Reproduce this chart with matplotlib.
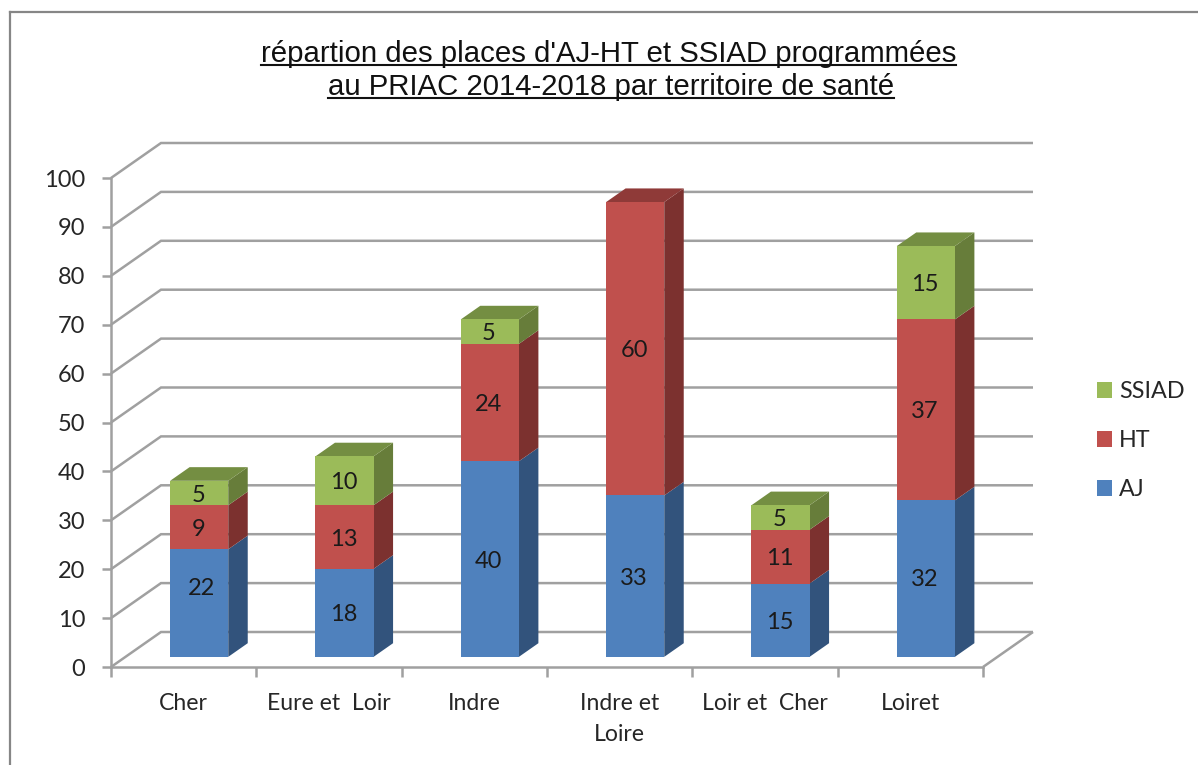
import matplotlib
matplotlib.use("Agg")
import matplotlib.pyplot as plt
from matplotlib.lines import Line2D
from matplotlib.patches import Patch, Polygon

categories = ["Cher", "Eure et  Loir", "Indre", "Indre et\nLoire", "Loir et  Cher", "Loiret"]
aj = [22, 18, 40, 33, 15, 32]
ht = [9, 13, 24, 60, 11, 37]
ssiad = [5, 10, 5, 0, 5, 15]
series_names = ["AJ", "HT", "SSIAD"]
title_lines = ["répartion des places d'AJ-HT et SSIAD programmées",
               "au PRIAC 2014-2018 par territoire de santé"]
y_ticks = list(range(0, 101, 10))

W, H = 1198, 765
FRONT = ["#4F81BD", "#C0504D", "#9BBB59"]
SIDE = ["#32537C", "#7C312F", "#677D3A"]
TOP = ["#3E6797", "#8F3A38", "#748E42"]
GRID = "#A0A0A0"
TXT = "#262626"
FONT = "Lato"

fig = plt.figure(figsize=(W / 100, H / 100), dpi=100, facecolor="white")
ax = fig.add_axes([111 / W, (H - 667) / H, 872 / W, 489 / H])
ax.set_xlim(0, 6)
ax.set_ylim(0, 100)
ax.patch.set_visible(False)

PX_X = 6 / 872          # one pixel in category units
PX_Y = 100 / 489        # one pixel in value units
DX = 50 * PX_X          # depth of the floor, in category units
DY = 35 * PX_Y          # depth of the floor, in value units
NEAR, FAR = 0.29, 0.68  # bar position within the depth
HALF = 0.2              # half bar width


def line(xs, ys, lw=1.8, color=GRID, z=1):
    ax.add_line(Line2D(xs, ys, color=color, lw=lw, clip_on=False, zorder=z,
                       solid_capstyle="butt", solid_joinstyle="miter"))


# walls and floor
for v in y_ticks:
    line([0, DX, 6 + DX], [v, v + DY, v + DY])
line([6, 6 + DX], [0, DY])

# stacked 3D bars
stack = list(zip(aj, ht, ssiad))
label_dx = {(0, 0): 3 * PX_X}
label_dy = {(0, 0): 3.3, (5, 0): 0.3}
for i, values in enumerate(stack):
    xc = i + 0.5 + 1 * PX_X
    nx, fx = NEAR * DX, FAR * DX
    ny, fy = NEAR * DY, FAR * DY
    x0, x1 = xc - HALF + nx, xc + HALF + nx
    x2, x3 = x0 + (fx - nx), x1 + (fx - nx)
    base = 0
    top_series = max(k for k, v in enumerate(values) if v > 0)
    for k, v in enumerate(values):
        if v == 0:
            continue
        y0, y1 = base + ny, base + v + ny
        y2, y3 = base + fy, base + v + fy
        ax.add_patch(Polygon([(x1, y0), (x3, y2), (x3, y3), (x1, y1)], closed=True,
                             fc=SIDE[k], ec="none", clip_on=False, zorder=3))
        ax.add_patch(Polygon([(x0, y0), (x1, y0), (x1, y1), (x0, y1)], closed=True,
                             fc=FRONT[k], ec="none", clip_on=False, zorder=4))
        if k == top_series:
            ax.add_patch(Polygon([(x0, y1), (x1, y1), (x3, y3), (x2, y3)], closed=True,
                                 fc=TOP[k], ec="none", clip_on=False, zorder=3))
        ax.text((x0 + x1) / 2 - 1 * PX_X + label_dx.get((i, k), 0),
                (y0 + y1) / 2 + label_dy.get((i, k), 0),
                str(v), ha="center", va="center_baseline", fontsize=17, family=FONT,
                color="#1a1a1a", zorder=5)
        base += v

# axes
for s in ("top", "right"):
    ax.spines[s].set_visible(False)
for s in ("left", "bottom"):
    ax.spines[s].set_color(GRID)
    ax.spines[s].set_linewidth(1.8)
ax.set_yticks(y_ticks)
ax.set_yticklabels([str(v) for v in y_ticks], fontsize=17, family=FONT, color=TXT)
ax.tick_params(axis="y", length=6.5, width=1.8, color=GRID, pad=12)
ax.set_xticks(range(7))
ax.set_xticklabels([""] * 7)
ax.tick_params(axis="x", which="major", length=7, width=1.8, color=GRID)
ax.set_xticks([i + 0.5 for i in range(6)], minor=True)
ax.set_xticklabels(categories, minor=True, fontsize=16.6, family=FONT, color=TXT,
                   linespacing=1.58)
ax.tick_params(axis="x", which="minor", length=0, pad=19)

# legend
handles = [Patch(fc=FRONT[k], ec="none", label=series_names[k]) for k in (2, 1, 0)]
leg = fig.legend(handles=handles, frameon=False, loc="upper left",
                 bbox_to_anchor=(1097 / W, 1 - 381 / H), borderaxespad=0, borderpad=0,
                 handlelength=0.64, handleheight=0.64, handletextpad=0.3, labelspacing=1.2,
                 prop={"family": FONT, "size": 16.8}, labelcolor=TXT)


# outer frame (open on the right and at the bottom)
def px(x, y):
    return x / W, 1 - y / H


for (xa, ya), (xb, yb) in [((9.5, 765), (9.5, 12)), ((9.5, 12), (1198, 12))]:
    pa, pb = px(xa, ya), px(xb, yb)
    fig.add_artist(Line2D([pa[0], pb[0]], [pa[1], pb[1]], color="#868686", lw=1.6,
                          solid_capstyle="projecting"))

# underlined title
fig.canvas.draw()
renderer = fig.canvas.get_renderer()
for txt, xc, base_y, under_y in [(title_lines[0], 608.5, 62.5, 65),
                                 (title_lines[1], 611, 95, 97.5)]:
    tx, ty = px(xc, base_y)
    t = fig.text(tx, ty, txt, ha="center", va="baseline", fontsize=21.15,
                 family="Liberation Sans", color="#111111")
    bb = t.get_window_extent(renderer)
    fig.add_artist(Line2D([bb.x0 / W, bb.x1 / W], [px(0, under_y)[1]] * 2,
                          color="#111111", lw=1.5))

fig.savefig("out.png", dpi=100, facecolor="white")
